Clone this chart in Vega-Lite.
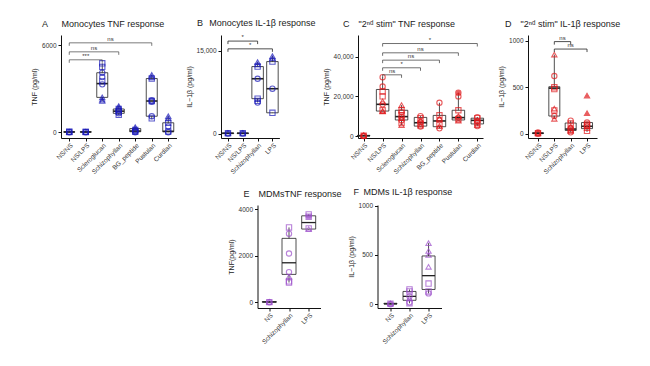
{
"$schema":"https://vega.github.io/schema/vega-lite/v6.json",
"autosize":{"type":"none"},
"padding":{"left":61,"top":35,"right":589,"bottom":331},
"config":{"font":"Liberation Sans","view":{"stroke":null},
 "axis":{"grid":false,"domainColor":"#111","tickColor":"#111","labelColor":"#333","labelFontSize":6.5,"titleFontSize":7,"titleFontWeight":"normal","titleColor":"#222","tickSize":3,"labelPadding":2,"titlePadding":4,"labelOverlap":false},
 "axisX":{"labelAngle":-45,"labelAlign":"right","labelBaseline":"top","labelPadding":1},
 "title":{"fontSize":9,"fontWeight":"normal","anchor":"start","frame":"group","offset":6,"color":"#222"}},
"datasets":{
"A_box":[
{"cat":"NS/NS","lo":0,"q1":5,"med":15,"q3":30,"hi":40},
{"cat":"NS/LPS","lo":0,"q1":5,"med":15,"q3":30,"hi":40},
{"cat":"Scleroglucan","lo":2150,"q1":2400,"med":3350,"q3":4100,"hi":4750},
{"cat":"Schizophyllan","lo":1150,"q1":1300,"med":1450,"q3":1600,"hi":1800},
{"cat":"BG_peptide","lo":0,"q1":30,"med":80,"q3":250,"hi":350},
{"cat":"Pustulan","lo":900,"q1":1100,"med":2150,"q3":3700,"hi":3950},
{"cat":"Curdlan","lo":0,"q1":30,"med":60,"q3":650,"hi":1100}],
"A_pts":[
{"cat":"NS/NS","v":0,"d":"c"},{"cat":"NS/NS","v":10,"d":"s"},{"cat":"NS/NS","v":20,"d":"t"},{"cat":"NS/NS","v":30,"d":"s"},
{"cat":"NS/LPS","v":0,"d":"c"},{"cat":"NS/LPS","v":10,"d":"s"},{"cat":"NS/LPS","v":25,"d":"t"},{"cat":"NS/LPS","v":20,"d":"s"},
{"cat":"Scleroglucan","v":4750,"d":"s"},{"cat":"Scleroglucan","v":4500,"d":"s"},{"cat":"Scleroglucan","v":4100,"d":"c"},{"cat":"Scleroglucan","v":3800,"d":"c"},{"cat":"Scleroglucan","v":3500,"d":"s"},{"cat":"Scleroglucan","v":3300,"d":"c"},{"cat":"Scleroglucan","v":2400,"d":"t"},{"cat":"Scleroglucan","v":2250,"d":"t"},{"cat":"Scleroglucan","v":2150,"d":"t"},
{"cat":"Schizophyllan","v":1800,"d":"t"},{"cat":"Schizophyllan","v":1700,"d":"t"},{"cat":"Schizophyllan","v":1600,"d":"s"},{"cat":"Schizophyllan","v":1500,"d":"c"},{"cat":"Schizophyllan","v":1400,"d":"s"},{"cat":"Schizophyllan","v":1300,"d":"c"},{"cat":"Schizophyllan","v":1200,"d":"s"},
{"cat":"BG_peptide","v":350,"d":"t"},{"cat":"BG_peptide","v":250,"d":"t"},{"cat":"BG_peptide","v":150,"d":"s"},{"cat":"BG_peptide","v":80,"d":"c"},{"cat":"BG_peptide","v":30,"d":"s"},{"cat":"BG_peptide","v":0,"d":"c"},
{"cat":"Pustulan","v":3950,"d":"t"},{"cat":"Pustulan","v":3800,"d":"t"},{"cat":"Pustulan","v":3700,"d":"s"},{"cat":"Pustulan","v":2200,"d":"c"},{"cat":"Pustulan","v":2150,"d":"s"},{"cat":"Pustulan","v":2100,"d":"c"},{"cat":"Pustulan","v":1100,"d":"c"},{"cat":"Pustulan","v":950,"d":"s"},
{"cat":"Curdlan","v":1100,"d":"t"},{"cat":"Curdlan","v":950,"d":"t"},{"cat":"Curdlan","v":650,"d":"s"},{"cat":"Curdlan","v":400,"d":"c"},{"cat":"Curdlan","v":50,"d":"s"},{"cat":"Curdlan","v":0,"d":"c"}],
"A_br":[
{"from":"NS/NS","to":"Scleroglucan","y":4990,"label":"***","at":"NS/LPS","half":0},
{"from":"NS/NS","to":"Schizophyllan","y":5540,"label":"ns","at":"NS/LPS","half":1},
{"from":"NS/NS","to":"Pustulan","y":6160,"label":"ns","at":"Scleroglucan","half":1}],
"B_box":[
{"cat":"NS/NS","lo":0,"q1":20,"med":50,"q3":100,"hi":150},
{"cat":"NS/LPS","lo":0,"q1":20,"med":50,"q3":100,"hi":150},
{"cat":"Schizophyllan","lo":5600,"q1":6300,"med":9900,"q3":12100,"hi":12900},
{"cat":"LPS","lo":3700,"q1":3750,"med":8100,"q3":13000,"hi":14000}],
"B_pts":[
{"cat":"NS/NS","v":0,"d":"c"},{"cat":"NS/NS","v":50,"d":"s"},{"cat":"NS/NS","v":100,"d":"t"},
{"cat":"NS/LPS","v":0,"d":"c"},{"cat":"NS/LPS","v":50,"d":"s"},{"cat":"NS/LPS","v":100,"d":"t"},
{"cat":"Schizophyllan","v":12900,"d":"t"},{"cat":"Schizophyllan","v":12500,"d":"t"},{"cat":"Schizophyllan","v":12100,"d":"s"},{"cat":"Schizophyllan","v":9900,"d":"c"},{"cat":"Schizophyllan","v":6300,"d":"s"},{"cat":"Schizophyllan","v":5900,"d":"s"},{"cat":"Schizophyllan","v":5600,"d":"c"},
{"cat":"LPS","v":14000,"d":"t"},{"cat":"LPS","v":13600,"d":"t"},{"cat":"LPS","v":13000,"d":"s"},{"cat":"LPS","v":8100,"d":"c"},{"cat":"LPS","v":3750,"d":"s"}],
"B_br":[
{"from":"NS/NS","to":"Schizophyllan","y":16700,"label":"*","at":"NS/LPS","half":0},
{"from":"NS/NS","to":"LPS","y":15300,"label":"*","at":"NS/LPS","half":1}],
"C_box":[
{"cat":"NS/NS","lo":0,"q1":50,"med":150,"q3":300,"hi":500},
{"cat":"NS/LPS","lo":12400,"q1":12600,"med":16000,"q3":23500,"hi":29700},
{"cat":"Scleroglucan","lo":5500,"q1":8100,"med":9800,"q3":13000,"hi":15600},
{"cat":"Schizophyllan","lo":4800,"q1":5000,"med":6700,"q3":9400,"hi":10000},
{"cat":"BG_peptide","lo":3900,"q1":4700,"med":7600,"q3":10400,"hi":16800},
{"cat":"Pustulan","lo":7800,"q1":8100,"med":9300,"q3":13000,"hi":21900},
{"cat":"Curdlan","lo":5000,"q1":6100,"med":7900,"q3":9000,"hi":9500}],
"C_pts":[
{"cat":"NS/NS","v":0,"d":"c"},{"cat":"NS/NS","v":200,"d":"s"},{"cat":"NS/NS","v":400,"d":"t"},{"cat":"NS/NS","v":100,"d":"c"},
{"cat":"NS/LPS","v":29700,"d":"c"},{"cat":"NS/LPS","v":25000,"d":"c"},{"cat":"NS/LPS","v":22500,"d":"s"},{"cat":"NS/LPS","v":20000,"d":"s"},{"cat":"NS/LPS","v":17500,"d":"t"},{"cat":"NS/LPS","v":16000,"d":"c"},{"cat":"NS/LPS","v":13000,"d":"s"},{"cat":"NS/LPS","v":12600,"d":"t"},{"cat":"NS/LPS","v":12400,"d":"t"},
{"cat":"Scleroglucan","v":15600,"d":"t"},{"cat":"Scleroglucan","v":13000,"d":"s"},{"cat":"Scleroglucan","v":12000,"d":"c"},{"cat":"Scleroglucan","v":10500,"d":"s"},{"cat":"Scleroglucan","v":9500,"d":"c"},{"cat":"Scleroglucan","v":9000,"d":"t"},{"cat":"Scleroglucan","v":8000,"d":"c"},{"cat":"Scleroglucan","v":6500,"d":"s"},{"cat":"Scleroglucan","v":5500,"d":"t"},
{"cat":"Schizophyllan","v":10000,"d":"c"},{"cat":"Schizophyllan","v":9000,"d":"s"},{"cat":"Schizophyllan","v":8000,"d":"t"},{"cat":"Schizophyllan","v":7000,"d":"c"},{"cat":"Schizophyllan","v":6000,"d":"s"},{"cat":"Schizophyllan","v":5200,"d":"t"},{"cat":"Schizophyllan","v":4800,"d":"c"},
{"cat":"BG_peptide","v":16800,"d":"c"},{"cat":"BG_peptide","v":10500,"d":"s"},{"cat":"BG_peptide","v":9000,"d":"t"},{"cat":"BG_peptide","v":8000,"d":"c"},{"cat":"BG_peptide","v":6000,"d":"s"},{"cat":"BG_peptide","v":5000,"d":"t"},{"cat":"BG_peptide","v":3900,"d":"c"},
{"cat":"Pustulan","v":21900,"d":"c","f":1},{"cat":"Pustulan","v":20000,"d":"c"},{"cat":"Pustulan","v":13000,"d":"s"},{"cat":"Pustulan","v":10000,"d":"t"},{"cat":"Pustulan","v":9300,"d":"c"},{"cat":"Pustulan","v":8500,"d":"s"},{"cat":"Pustulan","v":7800,"d":"t"},
{"cat":"Curdlan","v":9500,"d":"c"},{"cat":"Curdlan","v":9000,"d":"s"},{"cat":"Curdlan","v":8000,"d":"t"},{"cat":"Curdlan","v":7500,"d":"c"},{"cat":"Curdlan","v":6500,"d":"s"},{"cat":"Curdlan","v":5500,"d":"t"},{"cat":"Curdlan","v":5000,"d":"c"}],
"C_br":[
{"from":"NS/LPS","to":"Scleroglucan","y":30900,"label":"ns","at":"NS/LPS","half":1},
{"from":"NS/LPS","to":"Schizophyllan","y":34450,"label":"*","at":"Scleroglucan","half":0},
{"from":"NS/LPS","to":"BG_peptide","y":38300,"label":"ns","at":"Scleroglucan","half":1},
{"from":"NS/LPS","to":"Pustulan","y":42000,"label":"ns","at":"Schizophyllan","half":0},
{"from":"NS/LPS","to":"Curdlan","y":46700,"label":"*","at":"Schizophyllan","half":1}],
"D_box":[
{"cat":"NS/NS","lo":0,"q1":2,"med":5,"q3":10,"hi":20},
{"cat":"NS/LPS","lo":160,"q1":190,"med":490,"q3":505,"hi":850},
{"cat":"Schizophyllan","lo":15,"q1":35,"med":50,"q3":115,"hi":140},
{"cat":"LPS","lo":20,"q1":55,"med":80,"q3":120,"hi":130}],
"D_pts":[
{"cat":"NS/NS","v":0,"d":"c"},{"cat":"NS/NS","v":5,"d":"s"},{"cat":"NS/NS","v":10,"d":"t"},{"cat":"NS/NS","v":15,"d":"c"},
{"cat":"NS/LPS","v":850,"d":"t"},{"cat":"NS/LPS","v":620,"d":"c"},{"cat":"NS/LPS","v":500,"d":"s"},{"cat":"NS/LPS","v":480,"d":"s"},{"cat":"NS/LPS","v":270,"d":"t"},{"cat":"NS/LPS","v":250,"d":"s"},{"cat":"NS/LPS","v":190,"d":"c"},{"cat":"NS/LPS","v":160,"d":"t"},
{"cat":"Schizophyllan","v":140,"d":"c"},{"cat":"Schizophyllan","v":110,"d":"s"},{"cat":"Schizophyllan","v":80,"d":"t"},{"cat":"Schizophyllan","v":60,"d":"c"},{"cat":"Schizophyllan","v":40,"d":"s"},{"cat":"Schizophyllan","v":30,"d":"t"},{"cat":"Schizophyllan","v":15,"d":"c"},
{"cat":"LPS","v":410,"d":"t","f":1},{"cat":"LPS","v":220,"d":"t","f":1},{"cat":"LPS","v":120,"d":"c"},{"cat":"LPS","v":100,"d":"s"},{"cat":"LPS","v":90,"d":"s"},{"cat":"LPS","v":80,"d":"c"},{"cat":"LPS","v":60,"d":"t"},{"cat":"LPS","v":30,"d":"s"}],
"D_br":[
{"from":"NS/LPS","to":"Schizophyllan","y":990,"label":"ns","at":"NS/LPS","half":1},
{"from":"NS/LPS","to":"LPS","y":910,"label":"ns","at":"Schizophyllan","half":0}],
"E_box":[
{"cat":"NS","lo":0,"q1":5,"med":15,"q3":30,"hi":40},
{"cat":"Schizophyllan","lo":850,"q1":1200,"med":1700,"q3":2750,"hi":3220},
{"cat":"LPS","lo":3130,"q1":3150,"med":3430,"q3":3720,"hi":3780}],
"E_pts":[
{"cat":"NS","v":0,"d":"c"},{"cat":"NS","v":20,"d":"t"},{"cat":"NS","v":10,"d":"s"},
{"cat":"Schizophyllan","v":3220,"d":"s"},{"cat":"Schizophyllan","v":2950,"d":"c"},{"cat":"Schizophyllan","v":2100,"d":"c"},{"cat":"Schizophyllan","v":1300,"d":"c"},{"cat":"Schizophyllan","v":1100,"d":"t"},{"cat":"Schizophyllan","v":900,"d":"s"},{"cat":"Schizophyllan","v":850,"d":"s"},
{"cat":"LPS","v":3780,"d":"s"},{"cat":"LPS","v":3680,"d":"s","f":1},{"cat":"LPS","v":3180,"d":"s"},{"cat":"LPS","v":3150,"d":"t"}],
"F_box":[
{"cat":"NS","lo":0,"q1":2,"med":5,"q3":10,"hi":15},
{"cat":"Schizophyllan","lo":10,"q1":40,"med":80,"q3":130,"hi":150},
{"cat":"LPS","lo":110,"q1":150,"med":290,"q3":490,"hi":620}],
"F_pts":[
{"cat":"NS","v":0,"d":"c"},{"cat":"NS","v":10,"d":"t"},{"cat":"NS","v":5,"d":"s"},
{"cat":"Schizophyllan","v":150,"d":"s"},{"cat":"Schizophyllan","v":130,"d":"s"},{"cat":"Schizophyllan","v":80,"d":"c"},{"cat":"Schizophyllan","v":60,"d":"t"},{"cat":"Schizophyllan","v":20,"d":"c"},{"cat":"Schizophyllan","v":10,"d":"s"},
{"cat":"LPS","v":620,"d":"t"},{"cat":"LPS","v":540,"d":"t"},{"cat":"LPS","v":500,"d":"t"},{"cat":"LPS","v":380,"d":"t"},{"cat":"LPS","v":210,"d":"s"},{"cat":"LPS","v":130,"d":"s"},{"cat":"LPS","v":110,"d":"c"}]
},
"spacing":12,
"vconcat":[
{"hconcat":[
{"width":115.5,"height":103,"title":{"text":"A\u2002\u2002\u2002Monocytes TNF response","dx":-19},
 "layer":[
 {"data":{"name":"A_box"},"mark":{"type":"rule","color":"#222","strokeWidth":0.8},
  "encoding":{"x":{"field":"cat","type":"nominal","title":null,"scale":{"type":"point","padding":0.5,"domain":["NS/NS","NS/LPS","Scleroglucan","Schizophyllan","BG_peptide","Pustulan","Curdlan"]}},
   "y":{"field":"lo","type":"quantitative","title":"TNF (pg/ml)","scale":{"domain":[-400,6700],"nice":false,"zero":false},"axis":{"values":[0,2000,4000,6000],"format":"d"}},"y2":{"field":"hi"}}},
 {"data":{"name":"A_box"},"mark":{"type":"bar","width":11,"fill":"white","stroke":"#222","strokeWidth":0.8},
  "encoding":{"x":{"field":"cat","type":"nominal","title":null},"y":{"field":"q1","type":"quantitative","title":"TNF (pg/ml)"},"y2":{"field":"q3"}}},
 {"data":{"name":"A_box"},"mark":{"type":"rule","color":"#222","strokeWidth":1.6,"xOffset":-5.5,"x2Offset":5.5},
  "encoding":{"x":{"field":"cat","type":"nominal","title":null},"x2":{"field":"cat"},"y":{"field":"med","type":"quantitative","title":"TNF (pg/ml)"}}},
 {"data":{"name":"A_pts"},"mark":{"type":"point","filled":true,"color":"#1a1ab8","stroke":"#1a1ab8","strokeWidth":1.1,"size":28},
  "encoding":{"x":{"field":"cat","type":"nominal","title":null},"y":{"field":"v","type":"quantitative","title":"TNF (pg/ml)"},
   "shape":{"field":"d","type":"nominal","scale":{"domain":["c","s","t"],"range":["circle","square","triangle-up"]},"legend":null},
   "fillOpacity":{"condition":{"test":"datum.f==1","value":1},"value":0}}},
 {"data":{"name":"A_br"},"mark":{"type":"rule","color":"#444","strokeWidth":0.7},
  "encoding":{"x":{"field":"from","type":"nominal","title":null},"x2":{"field":"to"},"y":{"field":"y","type":"quantitative","title":"TNF (pg/ml)"}}},
 {"data":{"name":"A_br"},"mark":{"type":"rule","color":"#444","strokeWidth":0.7,"y2Offset":3},
  "encoding":{"x":{"field":"from","type":"nominal","title":null},"y":{"field":"y","type":"quantitative","title":"TNF (pg/ml)"},"y2":{"field":"y"}}},
 {"data":{"name":"A_br"},"mark":{"type":"rule","color":"#444","strokeWidth":0.7,"y2Offset":3},
  "encoding":{"x":{"field":"to","type":"nominal","title":null},"y":{"field":"y","type":"quantitative","title":"TNF (pg/ml)"},"y2":{"field":"y"}}},
 {"data":{"name":"A_br"},"transform":[{"filter":"datum.half==0"}],"mark":{"type":"text","fontSize":6,"baseline":"bottom","dy":-1,"color":"#333"},
  "encoding":{"x":{"field":"at","type":"nominal","title":null},"y":{"field":"y","type":"quantitative","title":"TNF (pg/ml)"},"text":{"field":"label"}}},
 {"data":{"name":"A_br"},"transform":[{"filter":"datum.half==1"}],"mark":{"type":"text","fontSize":6,"baseline":"bottom","dy":-1,"dx":8.25,"color":"#333"},
  "encoding":{"x":{"field":"at","type":"nominal","title":null},"y":{"field":"y","type":"quantitative","title":"TNF (pg/ml)"},"text":{"field":"label"}}}
 ]},
{"width":1,"height":103,"data":{"values":[{"a":0}]},"mark":{"type":"point","opacity":0},"encoding":{}},
{"width":58.4,"height":103,"title":{"text":"B\u2002\u2009Monocytes IL-1β response","dx":-24},
 "layer":[
 {"data":{"name":"B_box"},"mark":{"type":"rule","color":"#222","strokeWidth":0.8},
  "encoding":{"x":{"field":"cat","type":"nominal","title":null,"scale":{"type":"point","padding":0.47,"domain":["NS/NS","NS/LPS","Schizophyllan","LPS"]}},
   "y":{"field":"lo","type":"quantitative","title":"IL−1β (pg/ml)","scale":{"domain":[-800,17800],"nice":false,"zero":false},"axis":{"values":[0,5000,10000,15000],"format":",d"}},"y2":{"field":"hi"}}},
 {"data":{"name":"B_box"},"mark":{"type":"bar","width":11.5,"fill":"white","stroke":"#222","strokeWidth":0.8},
  "encoding":{"x":{"field":"cat","type":"nominal","title":null},"y":{"field":"q1","type":"quantitative","title":"IL−1β (pg/ml)"},"y2":{"field":"q3"}}},
 {"data":{"name":"B_box"},"mark":{"type":"rule","color":"#222","strokeWidth":1.6,"xOffset":-5.75,"x2Offset":5.75},
  "encoding":{"x":{"field":"cat","type":"nominal","title":null},"x2":{"field":"cat"},"y":{"field":"med","type":"quantitative","title":"IL−1β (pg/ml)"}}},
 {"data":{"name":"B_pts"},"mark":{"type":"point","filled":true,"color":"#1a1ab8","stroke":"#1a1ab8","strokeWidth":1.1,"size":28},
  "encoding":{"x":{"field":"cat","type":"nominal","title":null},"y":{"field":"v","type":"quantitative","title":"IL−1β (pg/ml)"},
   "shape":{"field":"d","type":"nominal","scale":{"domain":["c","s","t"],"range":["circle","square","triangle-up"]},"legend":null},
   "fillOpacity":{"condition":{"test":"datum.f==1","value":1},"value":0}}},
 {"data":{"name":"B_br"},"mark":{"type":"rule","color":"#222","strokeWidth":0.8},
  "encoding":{"x":{"field":"from","type":"nominal","title":null},"x2":{"field":"to"},"y":{"field":"y","type":"quantitative","title":"IL−1β (pg/ml)"}}},
 {"data":{"name":"B_br"},"mark":{"type":"rule","color":"#222","strokeWidth":0.8,"y2Offset":3},
  "encoding":{"x":{"field":"from","type":"nominal","title":null},"y":{"field":"y","type":"quantitative","title":"IL−1β (pg/ml)"},"y2":{"field":"y"}}},
 {"data":{"name":"B_br"},"mark":{"type":"rule","color":"#222","strokeWidth":0.8,"y2Offset":3},
  "encoding":{"x":{"field":"to","type":"nominal","title":null},"y":{"field":"y","type":"quantitative","title":"IL−1β (pg/ml)"},"y2":{"field":"y"}}},
 {"data":{"name":"B_br"},"transform":[{"filter":"datum.half==0"}],"mark":{"type":"text","fontSize":6,"baseline":"bottom","dy":-1,"color":"#333"},
  "encoding":{"x":{"field":"at","type":"nominal","title":null},"y":{"field":"y","type":"quantitative","title":"IL−1β (pg/ml)"},"text":{"field":"label"}}},
 {"data":{"name":"B_br"},"transform":[{"filter":"datum.half==1"}],"mark":{"type":"text","fontSize":6,"baseline":"bottom","dy":-1,"dx":7.4,"color":"#333"},
  "encoding":{"x":{"field":"at","type":"nominal","title":null},"y":{"field":"y","type":"quantitative","title":"IL−1β (pg/ml)"},"text":{"field":"label"}}}
 ]},
{"width":35,"height":103,"data":{"values":[{"a":0}]},"mark":{"type":"point","opacity":0},"encoding":{}},
{"width":125,"height":103,"title":{"text":"C\u2002\u2002\"2ⁿᵈ stim\" TNF response","dx":-15},
 "layer":[
 {"data":{"name":"C_box"},"mark":{"type":"rule","color":"#222","strokeWidth":0.8},
  "encoding":{"x":{"field":"cat","type":"nominal","title":null,"scale":{"type":"point","padding":0.3,"domain":["NS/NS","NS/LPS","Scleroglucan","Schizophyllan","BG_peptide","Pustulan","Curdlan"]}},
   "y":{"field":"lo","type":"quantitative","title":"TNF (pg/ml)","scale":{"domain":[-1000,51000],"nice":false,"zero":false},"axis":{"values":[0,10000,20000,30000,40000],"format":",d"}},"y2":{"field":"hi"}}},
 {"data":{"name":"C_box"},"mark":{"type":"bar","width":12.5,"fill":"white","stroke":"#222","strokeWidth":0.8},
  "encoding":{"x":{"field":"cat","type":"nominal","title":null},"y":{"field":"q1","type":"quantitative","title":"TNF (pg/ml)"},"y2":{"field":"q3"}}},
 {"data":{"name":"C_box"},"mark":{"type":"rule","color":"#222","strokeWidth":1.6,"xOffset":-6.25,"x2Offset":6.25},
  "encoding":{"x":{"field":"cat","type":"nominal","title":null},"x2":{"field":"cat"},"y":{"field":"med","type":"quantitative","title":"TNF (pg/ml)"}}},
 {"data":{"name":"C_pts"},"mark":{"type":"point","filled":true,"color":"#e0191c","stroke":"#e0191c","strokeWidth":1.1,"size":28},
  "encoding":{"x":{"field":"cat","type":"nominal","title":null},"y":{"field":"v","type":"quantitative","title":"TNF (pg/ml)"},
   "shape":{"field":"d","type":"nominal","scale":{"domain":["c","s","t"],"range":["circle","square","triangle-up"]},"legend":null},
   "fillOpacity":{"condition":{"test":"datum.f==1","value":1},"value":0}}},
 {"data":{"name":"C_br"},"mark":{"type":"rule","color":"#333","strokeWidth":0.7},
  "encoding":{"x":{"field":"from","type":"nominal","title":null},"x2":{"field":"to"},"y":{"field":"y","type":"quantitative","title":"TNF (pg/ml)"}}},
 {"data":{"name":"C_br"},"mark":{"type":"rule","color":"#333","strokeWidth":0.7,"y2Offset":3},
  "encoding":{"x":{"field":"from","type":"nominal","title":null},"y":{"field":"y","type":"quantitative","title":"TNF (pg/ml)"},"y2":{"field":"y"}}},
 {"data":{"name":"C_br"},"mark":{"type":"rule","color":"#333","strokeWidth":0.7,"y2Offset":3},
  "encoding":{"x":{"field":"to","type":"nominal","title":null},"y":{"field":"y","type":"quantitative","title":"TNF (pg/ml)"},"y2":{"field":"y"}}},
 {"data":{"name":"C_br"},"transform":[{"filter":"datum.half==0"}],"mark":{"type":"text","fontSize":6,"baseline":"bottom","dy":-1,"color":"#333"},
  "encoding":{"x":{"field":"at","type":"nominal","title":null},"y":{"field":"y","type":"quantitative","title":"TNF (pg/ml)"},"text":{"field":"label"}}},
 {"data":{"name":"C_br"},"transform":[{"filter":"datum.half==1"}],"mark":{"type":"text","fontSize":6,"baseline":"bottom","dy":-1,"dx":9.47,"color":"#333"},
  "encoding":{"x":{"field":"at","type":"nominal","title":null},"y":{"field":"y","type":"quantitative","title":"TNF (pg/ml)"},"text":{"field":"label"}}}
 ]},
{"width":2,"height":103,"data":{"values":[{"a":0}]},"mark":{"type":"point","opacity":0},"encoding":{}},
{"width":69,"height":103,"title":{"text":"D\u2002\u2002\"2ⁿᵈ stim\" IL-1β response","dx":-23},
 "layer":[
 {"data":{"name":"D_box"},"mark":{"type":"rule","color":"#222","strokeWidth":0.8},
  "encoding":{"x":{"field":"cat","type":"nominal","title":null,"scale":{"type":"point","padding":0.61,"domain":["NS/NS","NS/LPS","Schizophyllan","LPS"]}},
   "y":{"field":"lo","type":"quantitative","title":"IL−1β (pg/ml)","scale":{"domain":[-46,1061],"nice":false,"zero":false},"axis":{"values":[0,250,500,750,1000],"format":"d"}},"y2":{"field":"hi"}}},
 {"data":{"name":"D_box"},"mark":{"type":"bar","width":11,"fill":"white","stroke":"#222","strokeWidth":0.8},
  "encoding":{"x":{"field":"cat","type":"nominal","title":null},"y":{"field":"q1","type":"quantitative","title":"IL−1β (pg/ml)"},"y2":{"field":"q3"}}},
 {"data":{"name":"D_box"},"mark":{"type":"rule","color":"#222","strokeWidth":1.6,"xOffset":-5.5,"x2Offset":5.5},
  "encoding":{"x":{"field":"cat","type":"nominal","title":null},"x2":{"field":"cat"},"y":{"field":"med","type":"quantitative","title":"IL−1β (pg/ml)"}}},
 {"data":{"name":"D_pts"},"mark":{"type":"point","filled":true,"color":"#e0191c","stroke":"#e0191c","strokeWidth":1.1,"size":28},
  "encoding":{"x":{"field":"cat","type":"nominal","title":null},"y":{"field":"v","type":"quantitative","title":"IL−1β (pg/ml)"},
   "shape":{"field":"d","type":"nominal","scale":{"domain":["c","s","t"],"range":["circle","square","triangle-up"]},"legend":null},
   "fillOpacity":{"condition":{"test":"datum.f==1","value":1},"value":0}}},
 {"data":{"name":"D_br"},"mark":{"type":"rule","color":"#222","strokeWidth":0.8},
  "encoding":{"x":{"field":"from","type":"nominal","title":null},"x2":{"field":"to"},"y":{"field":"y","type":"quantitative","title":"IL−1β (pg/ml)"}}},
 {"data":{"name":"D_br"},"mark":{"type":"rule","color":"#222","strokeWidth":0.8,"y2Offset":3},
  "encoding":{"x":{"field":"from","type":"nominal","title":null},"y":{"field":"y","type":"quantitative","title":"IL−1β (pg/ml)"},"y2":{"field":"y"}}},
 {"data":{"name":"D_br"},"mark":{"type":"rule","color":"#222","strokeWidth":0.8,"y2Offset":3},
  "encoding":{"x":{"field":"to","type":"nominal","title":null},"y":{"field":"y","type":"quantitative","title":"IL−1β (pg/ml)"},"y2":{"field":"y"}}},
 {"data":{"name":"D_br"},"transform":[{"filter":"datum.half==0"}],"mark":{"type":"text","fontSize":6,"baseline":"bottom","dy":-1,"color":"#333"},
  "encoding":{"x":{"field":"at","type":"nominal","title":null},"y":{"field":"y","type":"quantitative","title":"IL−1β (pg/ml)"},"text":{"field":"label"}}},
 {"data":{"name":"D_br"},"transform":[{"filter":"datum.half==1"}],"mark":{"type":"text","fontSize":6,"baseline":"bottom","dy":-1,"dx":8.2,"color":"#333"},
  "encoding":{"x":{"field":"at","type":"nominal","title":null},"y":{"field":"y","type":"quantitative","title":"IL−1β (pg/ml)"},"text":{"field":"label"}}}
 ]}
],"spacing":21.5,"bounds":"flush"},
{"hconcat":[
{"width":174.5,"height":103,"data":{"values":[{"a":0}]},"mark":{"type":"point","opacity":0},"encoding":{}},
{"width":63,"height":103,"title":{"text":"E\u2002\u2002MDMsTNF response","dx":-14},
 "layer":[
 {"data":{"name":"E_box"},"mark":{"type":"rule","color":"#222","strokeWidth":0.8},
  "encoding":{"x":{"field":"cat","type":"nominal","title":null,"scale":{"type":"point","padding":0.6,"domain":["NS","Schizophyllan","LPS"]}},
   "y":{"field":"lo","type":"quantitative","title":"TNF(pg/ml)","scale":{"domain":[-245,4185],"nice":false,"zero":false},"axis":{"values":[0,1000,2000,3000,4000],"format":"d"}},"y2":{"field":"hi"}}},
 {"data":{"name":"E_box"},"mark":{"type":"bar","width":14,"fill":"white","stroke":"#222","strokeWidth":0.8},
  "encoding":{"x":{"field":"cat","type":"nominal","title":null},"y":{"field":"q1","type":"quantitative","title":"TNF(pg/ml)"},"y2":{"field":"q3"}}},
 {"data":{"name":"E_box"},"mark":{"type":"rule","color":"#222","strokeWidth":1.3,"xOffset":-7,"x2Offset":7},
  "encoding":{"x":{"field":"cat","type":"nominal","title":null},"x2":{"field":"cat"},"y":{"field":"med","type":"quantitative","title":"TNF(pg/ml)"}}},
 {"data":{"name":"E_pts"},"mark":{"type":"point","filled":true,"color":"#9b4dca","stroke":"#9b4dca","strokeWidth":1.1,"size":28},
  "encoding":{"x":{"field":"cat","type":"nominal","title":null},"y":{"field":"v","type":"quantitative","title":"TNF(pg/ml)"},
   "shape":{"field":"d","type":"nominal","scale":{"domain":["c","s","t"],"range":["circle","square","triangle-up"]},"legend":null},
   "fillOpacity":{"condition":{"test":"datum.f==1","value":1},"value":0}}}
 ]},
{"width":14,"height":103,"data":{"values":[{"a":0}]},"mark":{"type":"point","opacity":0},"encoding":{}},
{"width":64,"height":103,"title":{"text":"F\u2002MDMs IL-1β response","dx":-24},
 "layer":[
 {"data":{"name":"F_box"},"mark":{"type":"rule","color":"#222","strokeWidth":0.8},
  "encoding":{"x":{"field":"cat","type":"nominal","title":null,"scale":{"type":"point","padding":0.68,"domain":["NS","Schizophyllan","LPS"]}},
   "y":{"field":"lo","type":"quantitative","title":"IL−1β (pg/ml)","scale":{"domain":[-38,1007],"nice":false,"zero":false},"axis":{"values":[0,250,500,750,1000],"format":"d"}},"y2":{"field":"hi"}}},
 {"data":{"name":"F_box"},"mark":{"type":"bar","width":13,"fill":"white","stroke":"#222","strokeWidth":0.8},
  "encoding":{"x":{"field":"cat","type":"nominal","title":null},"y":{"field":"q1","type":"quantitative","title":"IL−1β (pg/ml)"},"y2":{"field":"q3"}}},
 {"data":{"name":"F_box"},"mark":{"type":"rule","color":"#222","strokeWidth":1.3,"xOffset":-6.5,"x2Offset":6.5},
  "encoding":{"x":{"field":"cat","type":"nominal","title":null},"x2":{"field":"cat"},"y":{"field":"med","type":"quantitative","title":"IL−1β (pg/ml)"}}},
 {"data":{"name":"F_pts"},"mark":{"type":"point","filled":true,"color":"#9b4dca","stroke":"#9b4dca","strokeWidth":1.1,"size":28},
  "encoding":{"x":{"field":"cat","type":"nominal","title":null},"y":{"field":"v","type":"quantitative","title":"IL−1β (pg/ml)"},
   "shape":{"field":"d","type":"nominal","scale":{"domain":["c","s","t"],"range":["circle","square","triangle-up"]},"legend":null},
   "fillOpacity":{"condition":{"test":"datum.f==1","value":1},"value":0}}}
 ]}
],"spacing":21.5,"bounds":"flush"}
]
}
